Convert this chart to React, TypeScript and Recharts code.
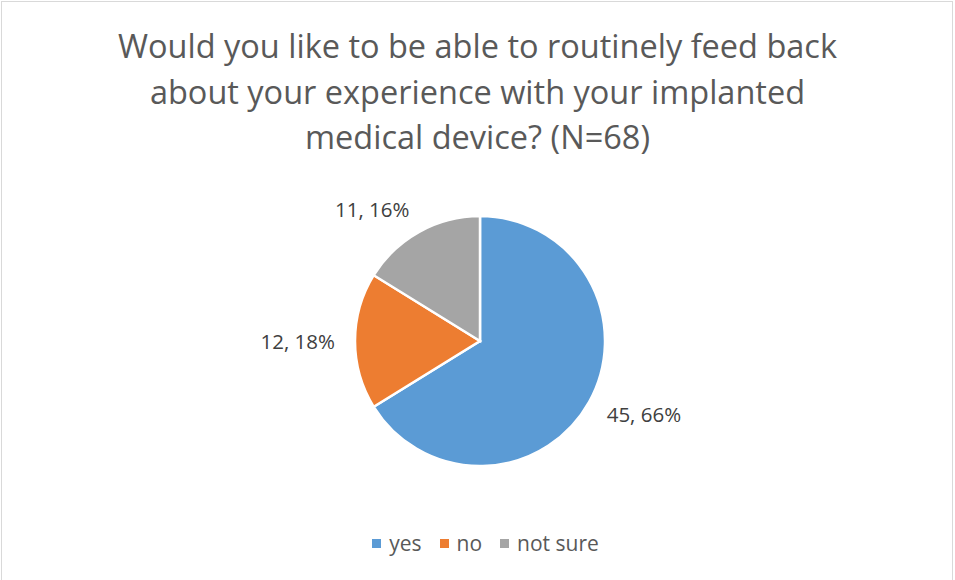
import React from "react";
import { PieChart, Pie, Cell, Legend } from "recharts";

const categories = ["yes", "no", "not sure"];
const counts = [45, 12, 11];
const percents = ["66%", "18%", "16%"];
const colors = ["#5B9BD5", "#ED7D31", "#A5A5A5"];
const titleLines = [
  "Would you like to be able to routinely feed back",
  "about your experience with your implanted",
  "medical device? (N=68)",
];

const data = categories.map((name, i) => ({ name, value: counts[i], pct: percents[i] }));

const FONT = "'Open Sans', 'Noto Sans', sans-serif";
const RAD = Math.PI / 180;

const renderLabel = (props: any) => {
  const { cx, cy, midAngle, outerRadius, index } = props;
  const r = outerRadius + 20;
  const x = cx + r * Math.cos(-midAngle * RAD);
  const y = cy + (r + 6) * Math.sin(-midAngle * RAD);
  const anchor = Math.cos(-midAngle * RAD) >= 0 ? "start" : "end";
  const d = data[index];
  return (
    <text
      x={x}
      y={y}
      textAnchor={anchor}
      dominantBaseline="central"
      fill="#404040"
      fontSize={20.5}
      fontFamily={FONT}
    >
      {`${d.value}, ${d.pct}`}
    </text>
  );
};

const renderLegend = () => (
  <div
    style={{
      display: "flex",
      justifyContent: "center",
      alignItems: "center",
      fontFamily: FONT,
      fontSize: 21,
      color: "#595959",
      paddingLeft: 16,
    }}
  >
    {data.map((d, i) => (
      <div key={d.name} style={{ display: "flex", alignItems: "center", marginRight: i < data.length - 1 ? 18 : 0 }}>
        <span style={{ display: "inline-block", width: 9, height: 9, background: colors[i], marginRight: 8 }} />
        <span>{d.name}</span>
      </div>
    ))}
  </div>
);

export default function App() {
  return (
    <div style={{ position: "fixed", left: 0, top: 0, width: 955, height: 580, background: "#fff" }}>
      <div
        style={{
          position: "absolute",
          left: 1,
          top: 1,
          width: 952,
          height: 600,
          border: "1px solid #d9d9d9",
          boxSizing: "border-box",
        }}
      />
      <div
        style={{
          position: "absolute",
          left: 0,
          top: 23,
          width: 955,
          textAlign: "center",
          fontFamily: FONT,
          fontSize: 32.5,
          lineHeight: "45.5px",
          color: "#595959",
        }}
      >
        {titleLines.map((t) => (
          <div key={t}>{t}</div>
        ))}
      </div>
      <div style={{ position: "absolute", left: 0, top: 0 }}>
        <PieChart width={955} height={580}>
          <Pie
            data={data}
            dataKey="value"
            nameKey="name"
            cx={475}
            cy={336}
            outerRadius={125}
            startAngle={90}
            endAngle={-270}
            stroke="#ffffff"
            strokeWidth={2.5}
            label={renderLabel}
            labelLine={false}
            isAnimationActive={false}
          >
            {data.map((d, i) => (
              <Cell key={d.name} fill={colors[i]} />
            ))}
          </Pie>
          <Legend
            verticalAlign="bottom"
            align="center"
            content={renderLegend}
            wrapperStyle={{ bottom: 23 }}
          />
        </PieChart>
      </div>
    </div>
  );
}
